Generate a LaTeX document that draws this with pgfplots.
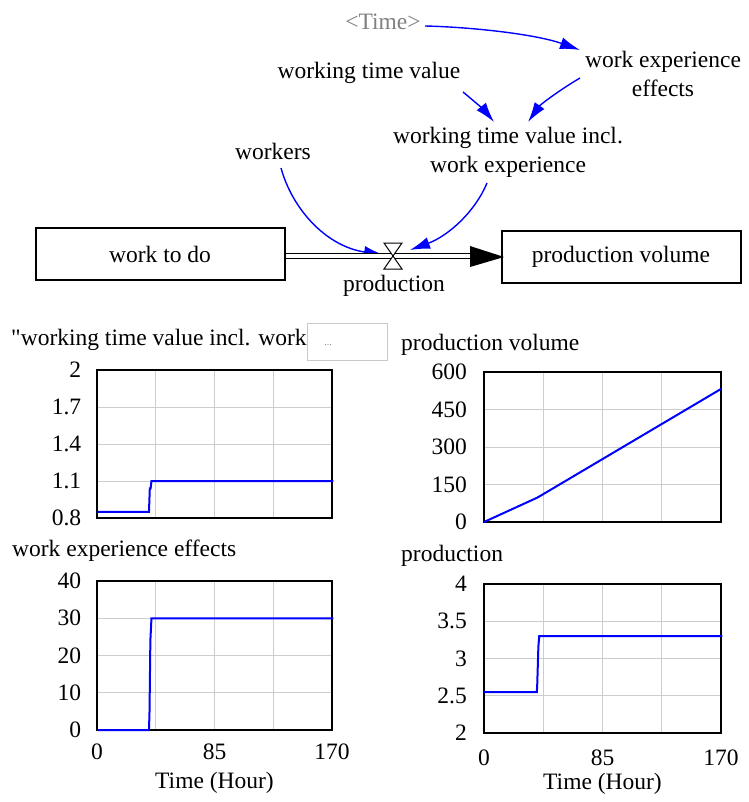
\documentclass[border=0pt]{standalone}
\usepackage{fontspec}
\setmainfont{Liberation Serif}
\usepackage{pgfplots}
\pgfplotsset{compat=1.18}
\usetikzlibrary{arrows.meta}
\definecolor{vblue}{RGB}{0,0,255}
\definecolor{gridgray}{RGB}{205,205,205}
\definecolor{boxgray}{RGB}{200,200,200}
\begin{document}
\begin{tikzpicture}[font=\fontsize{23.5}{29}\selectfont]
\useasboundingbox (0,0) rectangle (748pt,-802pt);
\pgfplotsset{
  vplot/.style={
    scale only axis, anchor=south west, clip=false,
    xmin=0, xmax=170, xtick={0,42.5,85,127.5,170},
    grid=major, major grid style={gridgray, line width=1pt},
    axis line style={black, line width=1.6pt},
    major tick length=0pt, no markers,
    tick label style={font=\fontsize{23.5}{28}\selectfont},
    /pgf/number format/assume math mode=true,
  },
  vline/.style={vblue, line width=2pt, mark=none},
  notime/.style={xticklabels={}},
  withtime/.style={xticklabels={0,,85,,170}, xlabel={Time (Hour)},
    xlabel style={font=\fontsize{23.5}{28}\selectfont, at={(axis description cs:0.5,0)}, anchor=center, yshift=-#1}},
}
% ---------- stock and flow diagram ----------
\begin{scope}[x=1pt,y=-1pt]
\tikzset{inf/.style={vblue, line width=1.4pt, -{Latex[length=20pt,width=12pt]}}}
\node[text=gray] at (383,22) {<Time>};
\node[align=center] at (663,74) {work experience\\effects};
\node at (369,73) {working time value};
\node[align=center] at (508,152) {working time value incl.\\work experience};
\node at (273,151) {workers};
\draw[inf] (425,26) .. controls (470,27) and (535,34) .. (580,50);
\draw[inf] (463,92) .. controls (474,101) and (485,111) .. (494,122);
\draw[inf] (580,78) .. controls (558,91) and (540,105) .. (528,122);
\draw[inf] (281,168) .. controls (292,208) and (325,246) .. (384,255);
\draw[inf] (487,183) .. controls (475,212) and (448,236) .. (410,250);
% pipe
\draw[line width=1.2pt, double=white, double distance=3.5pt] (285,256) -- (472,256);
\fill[black] (470,246) -- (504,257) -- (470,267) -- cycle;
% boxes
\draw[line width=1.5pt] (36,228) rectangle (285,280);
\node at (160,254) {work to do};
\draw[line width=1.5pt] (502,231) rectangle (741,283);
\node at (621,257) {production volume};
% valve
\draw[line width=1pt, fill=white] (384,243) -- (402,243) -- (393,256) -- cycle;
\draw[line width=1pt, fill=white] (393,256) -- (384,269) -- (402,269) -- cycle;
\node at (394,286) {production};
% chart titles
\node[anchor=west, inner sep=0pt] at (11,340) {\textquotedbl working time value incl. work};
\draw[boxgray, line width=1pt] (307,323) rectangle (387,360);
\node[text=gray, font=\fontsize{10}{12}\selectfont] at (328,345) {...};
\node[anchor=west, inner sep=0pt] at (401,345) {production volume};
\node[anchor=west, inner sep=0pt] at (12,551) {work experience effects};
\node[anchor=west, inner sep=0pt] at (401,556) {production};
\end{scope}
% ---------- graphs ----------
\begin{axis}[vplot, notime, at={(97pt,-518pt)}, width=235pt, height=148pt,
  ymin=0.8, ymax=2, ytick={0.8,1.1,1.4,1.7,2}, yticklabels={0.8,1.1,1.4,1.7,2},
  yticklabel style={xshift=-12.3pt}]
\addplot[vline] coordinates {(0,0.85) (37.6,0.85) (38.2,1.04) (38.8,1.04) (39.4,1.1) (171,1.1)};
\end{axis}
\begin{axis}[vplot, notime, at={(484pt,-522pt)}, width=237pt, height=150pt,
  ymin=0, ymax=600, ytick={0,150,300,450,600}, yticklabels={0,150,300,450,600},
  yticklabel style={xshift=-13.6pt}]
\addplot[vline] coordinates {(0,0) (38,96.9) (39,100) (40,103.2) (85,251.7) (170,532.2)};
\end{axis}
\begin{axis}[vplot, withtime=53pt, at={(97pt,-730pt)}, width=235pt, height=149pt,
  ymin=0, ymax=40, ytick={0,10,20,30,40}, yticklabels={0,10,20,30,40},
  yticklabel style={xshift=-12.3pt},
  xticklabel style={anchor=center, yshift=-21.5pt}]
\addplot[vline] coordinates {(0,0) (37.6,0) (38,5) (38.6,24) (39.4,30) (171,30)};
\end{axis}
\begin{axis}[vplot, withtime=51pt, at={(484pt,-733pt)}, width=237pt, height=149pt,
  ymin=2, ymax=4, ytick={2,2.5,3,3.5,4}, yticklabels={2,2.5,3,3.5,4},
  yticklabel style={xshift=-13.6pt},
  xticklabel style={anchor=center, yshift=-25pt}]
\addplot[vline] coordinates {(0,2.55) (37.9,2.55) (38.2,2.66) (39.0,3.16) (39.6,3.3) (171,3.3)};
\end{axis}
\end{tikzpicture}
\end{document}
